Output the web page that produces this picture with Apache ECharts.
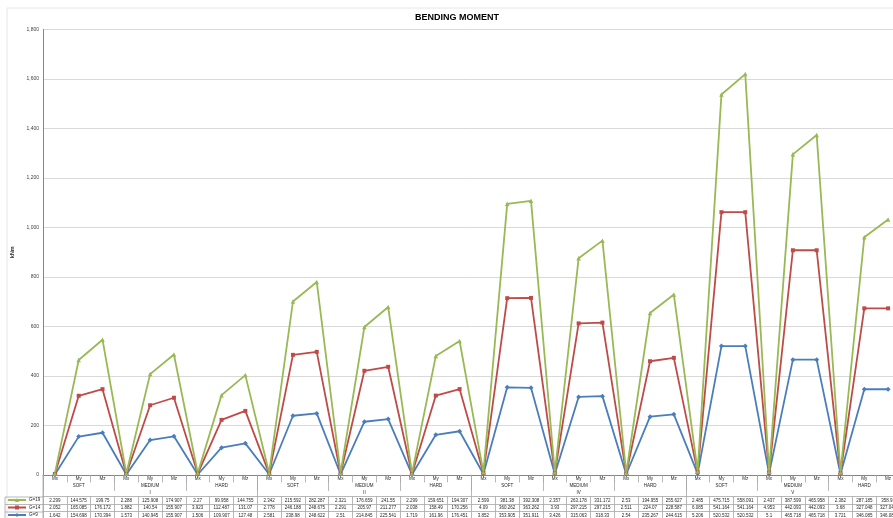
<!DOCTYPE html>
<html>
<head>
<meta charset="utf-8">
<script src="https://cdn.jsdelivr.net/npm/echarts@6/dist/echarts.min.js"></script>
<style>
html,body{margin:0;padding:0;background:#fff;overflow:hidden;}
#chart{width:900px;height:518px;}
</style>
</head>
<body>
<div id="chart"></div>
<script>
// ---- data ----
const moments = ['Mx', 'My', 'Mz'];
const soils = ['SOFT', 'MEDIUM', 'HARD'];
const groups = ['I', 'II', 'IV', 'V'];
const seriesNames = ['G=19', 'G=14', 'G=9'];

const g19 = [2.299, 144.575, 199.75, 2.288, 125.908, 174.907, 2.27, 99.958, 144.755,
  2.342, 215.592, 282.287, 2.321, 176.659, 241.55, 2.299, 159.651, 194.307,
  2.599, 381.38, 392.308, 2.357, 263.178, 331.172, 2.53, 194.955, 255.627,
  2.485, 475.715, 558.091, 2.437, 387.599, 465.958, 2.382, 287.185, 358.91];
const g14 = [2.052, 165.085, 176.172, 1.882, 140.54, 155.907, 3.923, 112.487, 131.07,
  2.778, 246.188, 248.675, 2.291, 205.97, 211.277, 2.038, 158.49, 170.256,
  4.09, 360.262, 363.262, 3.93, 297.215, 297.215, 2.511, 224.07, 228.587,
  6.085, 541.164, 541.164, 4.953, 442.093, 442.093, 3.68, 327.048, 327.048];
const g9 = [1.642, 154.698, 170.394, 1.573, 140.945, 155.907, 1.506, 109.907, 127.48,
  2.581, 238.98, 248.622, 2.51, 214.845, 225.541, 1.719, 161.96, 176.451,
  3.852, 353.905, 351.911, 3.426, 315.063, 318.33, 2.54, 235.267, 244.615,
  5.206, 520.532, 520.532, 5.1, 465.718, 465.718, 3.721, 346.085, 346.085];

const yTicks = {min: 0, max: 1800, interval: 200};

// ---- derived ----
const categories = [];
const soilCats = [];
groups.forEach(function () {
  soils.forEach(function (s) {
    soilCats.push(s);
    moments.forEach(function (m) { categories.push(m); });
  });
});

const COLORS = {'G=9': '#4A7EBB', 'G=14': '#BE4B48', 'G=19': '#98B954'};
const FONT = 'Liberation Sans';
const gridColor = '#a6a6a6';

function rowAxis(values, offset) {
  return {
    type: 'category', data: categories, position: 'bottom', offset: offset,
    boundaryGap: true,
    axisLine: {show: true, lineStyle: {color: gridColor, width: 0.8}},
    axisTick: {show: true, interval: 0, length: 7.5, lineStyle: {color: gridColor, width: 0.8}},
    axisLabel: {interval: 0, margin: 1.6, fontSize: 4.5, color: '#262626', fontFamily: FONT,
      formatter: function (v, i) { return String(values[i]); }}
  };
}

const chart = echarts.init(document.getElementById('chart'), null, {renderer: 'canvas'});
chart.setOption({
  animation: false,
  backgroundColor: '#fff',
  title: {
    text: 'BENDING MOMENT', left: 410, top: 8,
    textStyle: {fontSize: 9, fontWeight: 'bold', color: '#000', fontFamily: FONT}
  },
  legend: {
    data: ['G=19', 'G=14', 'G=9'],
    orient: 'vertical', left: 7, top: 497.5,
    itemWidth: 18, itemHeight: 5, itemGap: 2.5,
    textStyle: {fontSize: 4.5, color: '#262626', fontFamily: FONT, padding: [0, 0, 0, -2]},
    padding: 0
  },
  grid: {left: 43, right: 0, top: 29.5, bottom: 42.5, containLabel: false},
  xAxis: [
    {
      type: 'category', data: categories, position: 'bottom', boundaryGap: true,
      axisLine: {show: true, lineStyle: {color: '#868686', width: 1}},
      axisTick: {show: true, interval: 0, length: 7.5, lineStyle: {color: gridColor, width: 0.8}},
      axisLabel: {interval: 0, margin: 1.6, fontSize: 4.5, color: '#262626', fontFamily: FONT}
    },
    {
      type: 'category', data: soilCats, position: 'bottom', boundaryGap: true,
      axisLine: {show: false},
      axisTick: {show: true, interval: 0, length: 16, lineStyle: {color: gridColor, width: 0.8}},
      axisLabel: {interval: 0, margin: 8.2, fontSize: 4.5, color: '#262626', fontFamily: FONT}
    },
    {
      type: 'category', data: groups, position: 'bottom', boundaryGap: true,
      axisLine: {show: false},
      axisTick: {show: true, interval: 0, length: 21.5, lineStyle: {color: gridColor, width: 0.8}},
      axisLabel: {interval: 0, margin: 15.4, fontSize: 4.5, color: '#262626', fontFamily: FONT}
    },
    rowAxis(g19, 21.5),
    rowAxis(g14, 29),
    rowAxis(g9, 36.5)
  ],
  yAxis: {
    type: 'value', min: yTicks.min, max: yTicks.max, interval: yTicks.interval,
    name: 'kNm', nameLocation: 'middle', nameGap: 25, nameRotate: 90,
    nameTextStyle: {fontSize: 5.5, fontWeight: 'bold', color: '#262626', fontFamily: FONT},
    axisLine: {show: true, lineStyle: {color: '#868686', width: 1}},
    axisTick: {show: false},
    axisLabel: {fontSize: 5, color: '#404040', margin: 4, fontFamily: FONT,
      formatter: function (v) { return v.toLocaleString('en-US'); }},
    splitLine: {lineStyle: {color: '#d9d9d9', width: 1}}
  },
  series: [
    {name: 'G=9', type: 'line', stack: 'total', data: g9, xAxisIndex: 0,
      symbol: 'diamond', symbolSize: 5, showAllSymbol: true,
      itemStyle: {color: COLORS['G=9']}, lineStyle: {color: COLORS['G=9'], width: 1.8}},
    {name: 'G=14', type: 'line', stack: 'total', data: g14, xAxisIndex: 0,
      symbol: 'rect', symbolSize: 4, showAllSymbol: true,
      itemStyle: {color: COLORS['G=14']}, lineStyle: {color: COLORS['G=14'], width: 1.8}},
    {name: 'G=19', type: 'line', stack: 'total', data: g19, xAxisIndex: 0,
      symbol: 'triangle', symbolSize: 4.5, showAllSymbol: true,
      itemStyle: {color: COLORS['G=19']}, lineStyle: {color: COLORS['G=19'], width: 1.8}}
  ],
  graphic: [
    {type: 'rect', shape: {x: 7, y: 8, width: 900, height: 520}, silent: true,
      style: {fill: 'none', stroke: '#e6e6e6', lineWidth: 1}},
    {type: 'line', shape: {x1: 5, y1: 497, x2: 43, y2: 497}, silent: true, style: {stroke: gridColor, lineWidth: 0.8}},
    {type: 'line', shape: {x1: 5, y1: 504.5, x2: 43, y2: 504.5}, silent: true, style: {stroke: gridColor, lineWidth: 0.8}},
    {type: 'line', shape: {x1: 5, y1: 512, x2: 43, y2: 512}, silent: true, style: {stroke: gridColor, lineWidth: 0.8}},
    {type: 'line', shape: {x1: 5, y1: 497, x2: 5, y2: 518}, silent: true, style: {stroke: gridColor, lineWidth: 0.8}},
    {type: 'line', shape: {x1: 43, y1: 475, x2: 43, y2: 518}, silent: true, style: {stroke: gridColor, lineWidth: 0.8}}
  ]
});
</script>
</body>
</html>
